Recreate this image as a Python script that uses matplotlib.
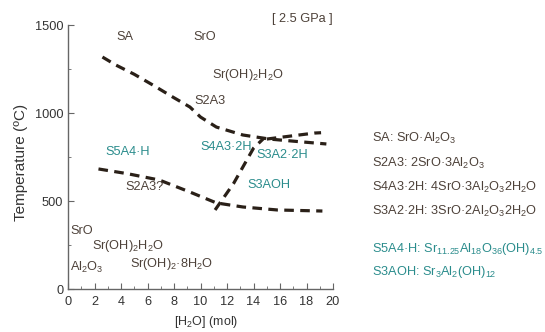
import matplotlib
matplotlib.use('Agg')
import matplotlib.pyplot as plt

#------
#fonts
plt.rcParams['font.family'] = ['Liberation Sans', 'DejaVu Sans']
plt.rcParams['mathtext.fontset'] = 'custom'
plt.rcParams['mathtext.rm'] = 'Liberation Sans'
plt.rcParams['mathtext.it'] = 'Liberation Sans'

#------
#boundary lines
upper_x = [2.6, 3.6, 5.0, 6.4, 7.9, 9.2, 10.0, 11.2, 13.2, 15.2, 17.0, 19.5]
upper_y = [1318, 1273, 1220, 1159, 1091, 1034, 977, 920, 875, 852, 840, 824]

branch_x = [15.0, 16.8, 18.6, 19.1]
branch_y = [852, 869, 886, 888]

mid_x = [11.1, 12.5, 14.0, 14.8]
mid_y = [449, 600, 800, 858]

lower_x = [2.3, 4.5, 6.9, 9.2, 11.2, 13.2, 15.8, 19.2]
lower_y = [682, 655, 619, 551, 489, 466, 449, 443]

#phase labels: text, x, y, teal?
labels = [
    ('SA', 4.3, 1432, False),
    ('SrO', 10.3, 1432, False),
    (r'Sr(OH)$_2$H$_2$O', 13.6, 1216, False),
    ('S2A3', 10.7, 1068, False),
    ('S5A4·H', 4.5, 778, True),
    ('S4A3·2H', 11.9, 807, True),
    ('S3A2·2H', 16.2, 761, True),
    ('S2A3?', 5.8, 580, False),
    ('S3AOH', 15.2, 591, True),
    ('SrO', 1.0, 330, False),
    (r'Sr(OH)$_2$H$_2$O', 4.5, 244, False),
    (r'Al$_2$O$_3$', 1.4, 125, False),
    (r'Sr(OH)$_2$·8H$_2$O', 7.8, 142, False),
]

#key on the right
key = [
    (r'SA: SrO·Al$_2$O$_3$', 138, False),
    (r'S2A3: 2SrO·3Al$_2$O$_3$', 163, False),
    (r'S4A3·2H: 4SrO·3Al$_2$O$_3$2H$_2$O', 187, False),
    (r'S3A2·2H: 3SrO·2Al$_2$O$_3$2H$_2$O', 211, False),
    (r'S5A4·H: Sr$_{11.25}$Al$_{18}$O$_{36}$(OH)$_{4.5}$', 249, True),
    (r'S3AOH: Sr$_3$Al$_2$(OH)$_{12}$', 272, True),
]

brown = '#4d4139'
teal = '#2a8c8c'
line_col = '#2a2018'

fig = plt.figure(figsize=(5.45, 3.32), dpi=100)
ax = fig.add_axes([68/545, 1-289/332, 265/545, 264/332])

ls = (0, (3, 2))
for xs, ys in [(upper_x, upper_y), (branch_x, branch_y), (mid_x, mid_y), (lower_x, lower_y)]:
    ax.plot(xs, ys, color=line_col, lw=2.3, linestyle=ls, solid_capstyle='butt')

for t, x, y, tl in labels:
    ax.text(x, y, t, color=teal if tl else brown, fontsize=9.2, ha='center', va='center')

ax.text(17.7, 1534, '[ 2.5 GPa ]', color=brown, fontsize=9.2, ha='center', va='center')

for t, y, tl in key:
    fig.text(372/545, 1-y/332, t, color=teal if tl else brown, fontsize=9.2, ha='left', va='center')

ax.set_xlim(0, 20)
ax.set_ylim(0, 1500)
ax.set_xticks(range(0, 21, 2))
ax.set_xticks(range(0, 21), minor=True)
ax.set_yticks([0, 500, 1000, 1500])
ax.set_yticks([250, 750, 1250], minor=True)
ax.spines['top'].set_visible(False)
ax.spines['right'].set_visible(False)
for s in ['left', 'bottom']:
    ax.spines[s].set_color('#666666')
    ax.spines[s].set_linewidth(1.0)
ax.tick_params(which='both', direction='in', colors='#666666', labelcolor='#333333', labelsize=9.2)
ax.tick_params(axis='x', pad=5)
ax.tick_params(which='major', length=4)
ax.tick_params(which='minor', length=2.5)
ax.set_xlabel(r'[H$_2$O] (mol)', fontsize=9, color='#333333')
ax.xaxis.set_label_coords(0.52, -0.095)
ax.set_ylabel('Temperature (ºC)', fontsize=11, color='#333333')
ax.yaxis.set_label_coords(-0.15, 0.48)

fig.savefig('out.png', dpi=100)
